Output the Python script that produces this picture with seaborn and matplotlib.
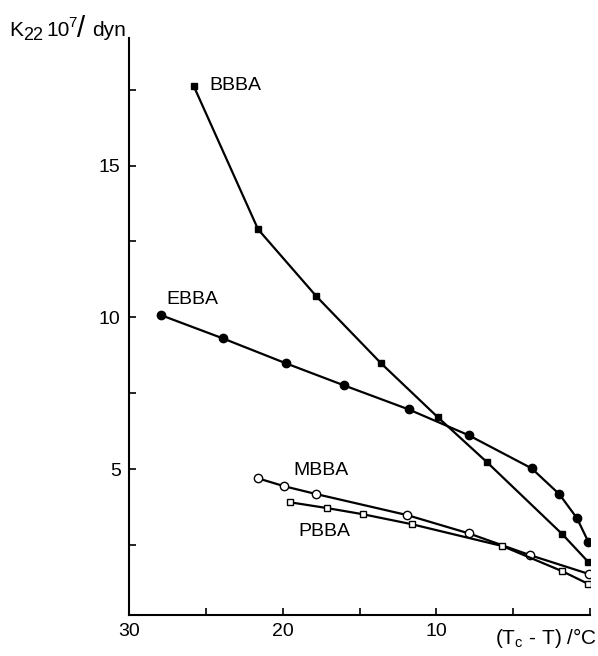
import matplotlib
matplotlib.use("Agg")
import matplotlib.pyplot as plt
import seaborn as sns
import pandas as pd
import numpy as np

# ---- data ----
bbba_x = [25.8, 21.6, 17.8, 13.6, 9.9, 6.7, 1.8, 0.1]
bbba_y = [17.63, 12.9, 10.69, 8.49, 6.71, 5.23, 2.86, 1.94]

ebba_x = [27.9, 23.9, 19.8, 16.0, 11.8, 7.9, 3.8, 2.0, 0.85, 0.1]
ebba_y = [10.07, 9.31, 8.49, 7.76, 6.97, 6.12, 5.03, 4.18, 3.39, 2.6]

mbba_x = [21.6, 19.9, 17.8, 11.9, 7.9, 3.9, 0.07]
mbba_y = [4.70, 4.44, 4.18, 3.49, 2.89, 2.17, 1.55]

pbba_x = [19.5, 17.1, 14.8, 11.6, 5.7, 1.8, 0.1]
pbba_y = [3.91, 3.72, 3.52, 3.19, 2.47, 1.64, 1.22]

x_ticks = [30, 25, 20, 15, 10, 5, 0]
x_tick_labels = ["30", "", "20", "", "10", "", ""]
y_ticks = [2.5, 5, 7.5, 10, 12.5, 15, 17.5]
y_tick_labels = ["", "5", "", "10", "", "15", ""]

sns.set_style("ticks")
plt.rcParams['font.family'] = ['Liberation Sans', 'DejaVu Sans']
plt.rcParams['mathtext.fontset'] = 'custom'
plt.rcParams['mathtext.rm'] = 'Liberation Sans'
plt.rcParams['mathtext.it'] = 'Liberation Sans'
plt.rcParams['text.color'] = 'black'
plt.rcParams['xtick.color'] = 'black'
plt.rcParams['ytick.color'] = 'black'
plt.rcParams['axes.edgecolor'] = 'black'

W, H = 598, 656
fig = plt.figure(figsize=(W / 100, H / 100), dpi=100)
ax = fig.add_axes([129/W, 1 - 615/H, (590 - 129)/W, (615 - 38)/H])

series = [
    (bbba_x, bbba_y, "s", "black", 5.0),
    (ebba_x, ebba_y, "o", "black", 6.0),
    (mbba_x, mbba_y, "o", "white", 6.0),
    (pbba_x, pbba_y, "s", "white", 4.8),
]
for xs, ys, mk, fc, ms in series:
    df = pd.DataFrame({"x": xs, "y": ys})
    sns.lineplot(data=df, x="x", y="y", ax=ax, color="black", lw=1.6,
                 marker=mk, markersize=ms, markerfacecolor=fc,
                 markeredgecolor="black", markeredgewidth=1.0,
                 sort=False, estimator=None)

ax.set_xlim(30, 0)
ax.set_ylim(0.2, 19.2)
ax.set_xticks(x_ticks)
ax.set_xticklabels(x_tick_labels)
ax.set_yticks(y_ticks)
ax.set_yticklabels(y_tick_labels)
ax.tick_params(direction="in", length=5, width=1.2, labelsize=14, pad=6,
               colors="black")
for s in ["top", "right"]:
    ax.spines[s].set_visible(False)
for s in ["left", "bottom"]:
    ax.spines[s].set_linewidth(1.5)
ax.set_xlabel("")
ax.set_ylabel("")

ax.text(24.8, 17.63, "BBBA", fontsize=14, va="center", ha="left")
ax.text(27.6, 10.6, "EBBA", fontsize=14, va="center", ha="left")
ax.text(19.33, 4.95, "MBBA", fontsize=14, va="center", ha="left")
ax.text(19.0, 2.96, "PBBA", fontsize=14, va="center", ha="left")

# y-axis title built from pieces: K 22 10 7 / dyn
def ftxt(px, py, s, fs):
    fig.text(px / W, 1 - py / H, s, fontsize=fs, va="baseline", ha="left")

ftxt(9, 36, "K", 15)
ftxt(23, 40, "22", 13)
ftxt(46, 36, "10", 15)
ftxt(68, 27, "7", 11)
ftxt(77, 37, "/", 21)
ftxt(92, 36, "dyn", 15)

fig.text(597/W, 1 - 638/H, r"(T$_{\rm c}$ - T) /°C", fontsize=15,
         va="center", ha="right")

fig.savefig("out.png", dpi=100)
